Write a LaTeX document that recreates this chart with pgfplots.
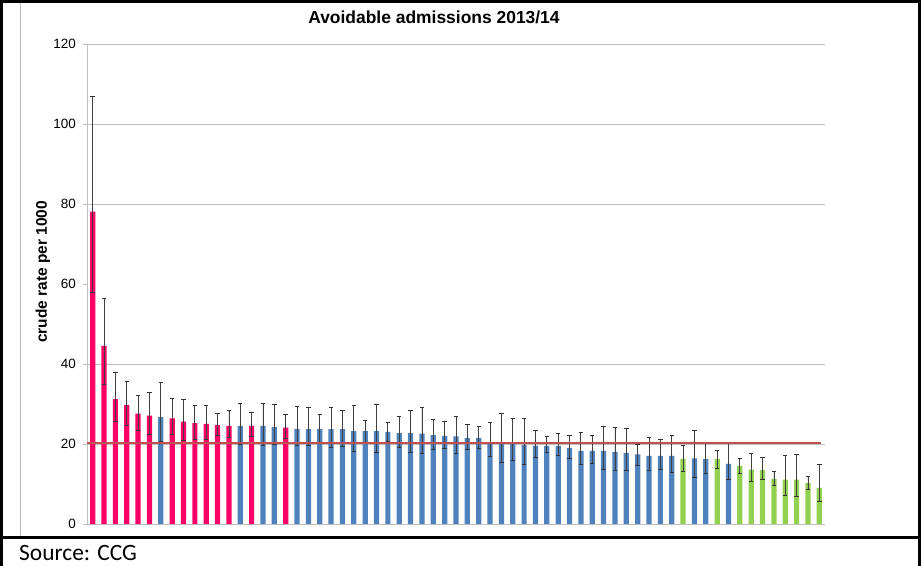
\documentclass[border=0pt]{standalone}
\usepackage{fontspec}
\setmainfont{Liberation Sans}
\newfontfamily\calibri{Carlito}
\usepackage{pgfplots}
\pgfplotsset{compat=1.18}
\usepackage{pgfplotstable}

\definecolor{pinkbar}{RGB}{255,0,102}
\definecolor{bluebar}{RGB}{79,129,189}
\definecolor{greenbar}{RGB}{146,208,80}
\definecolor{redline}{RGB}{192,80,77}
\definecolor{gridgray}{RGB}{192,192,192}

% i = position, v = crude rate, hi/lo = confidence limits
\pgfplotstableread{
i v hi lo
1 78.1 106.8 57.8
2 44.5 56.4 34.9
3 31.2 37.9 25.7
4 29.7 35.7 24.7
5 27.6 32.2 23.4
6 27.1 32.8 22.4
8 26.4 31.4 22.4
9 25.6 31.2 20.9
10 25.2 29.7 21.2
11 25.0 29.7 21.2
12 24.7 27.7 22.2
13 24.5 28.3 21.7
15 24.5 27.9 21.9
18 24.1 27.4 21.4
}\pinktab

\pgfplotstableread{
i v hi lo
7 26.7 35.3 20.7
14 24.5 30.2 19.8
16 24.5 30.2 19.7
17 24.2 29.9 19.9
19 23.8 29.4 19.7
20 23.7 29.2 19.7
21 23.7 27.5 20.2
22 23.7 29.2 19.1
23 23.7 28.4 19.4
24 23.2 29.6 18.2
25 23.2 25.9 20.5
26 23.2 29.9 17.8
27 23.0 25.5 20.7
28 22.7 27.0 19.1
29 22.7 28.4 17.9
30 22.6 29.2 17.7
31 22.2 26.1 18.7
32 22.0 25.7 18.9
33 21.9 26.9 17.7
34 21.5 24.8 18.7
35 21.5 24.3 18.9
36 20.1 25.4 16.9
37 20.0 27.7 15.4
38 20.0 26.4 16.0
39 19.8 26.4 14.9
40 19.6 23.5 16.7
41 19.5 21.9 17.8
42 19.5 22.6 17.1
43 19.0 22.1 16.3
44 18.3 23.0 14.9
45 18.3 22.2 15.2
46 18.3 24.4 13.7
47 18.0 24.2 13.4
48 17.8 23.9 13.3
49 17.4 20.0 14.7
50 17.0 21.7 13.3
51 17.0 21.2 13.7
52 17.0 22.2 12.9
54 16.4 23.4 11.7
55 16.2 20.2 12.7
57 15.0 20.2 11.2
}\bluetab

\pgfplotstableread{
i v hi lo
53 16.3 19.7 13.2
56 16.2 18.4 13.9
58 14.5 16.3 12.7
59 13.6 17.7 10.7
60 13.5 16.6 11.2
61 11.3 13.2 9.6
62 11.1 17.2 7.2
63 11.1 17.4 6.9
64 10.2 11.9 8.7
65 9.0 14.9 5.6
}\greentab

\pgfplotstableread{
i v
0.5 20.2
65.15 20.2
}\avgtab

\pgfplotsset{
  barstyle/.style={
    ybar, bar width=0.46, bar shift=0pt, draw=none, fill=#1,
    error bars/.cd, y dir=both, y explicit,
    error bar style={black!75, line width=0.8bp},
    error mark options={rotate=90, mark size=2.2bp, black!80, line width=0.9bp}
  }
}

\begin{document}
\begin{tikzpicture}
\path[use as bounding box] (0bp,0bp) rectangle (921bp,566bp);
% outer frame
\draw[line width=3bp] (1.5bp,0bp) -- (1.5bp,564.5bp) -- (919.5bp,564.5bp) -- (919.5bp,0bp);
\draw[line width=3bp] (0bp,28bp) -- (921bp,28bp);
\draw[gray!55, line width=0.8bp] (20bp,29.5bp) -- (20bp,563bp);
\node[anchor=west, inner sep=0pt, font=\calibri\fontsize{23.5}{27}\selectfont] at (19bp,13bp) {Source: CCG};
% titles
\node[font=\bfseries\fontsize{17.5}{21}\selectfont] at (434bp,549bp) {Avoidable admissions 2013/14};
\node[rotate=90, font=\bfseries\fontsize{15.5}{18}\selectfont] at (43bp,294bp) {crude rate per 1000};
\begin{axis}[
  at={(87bp,42bp)}, anchor=south west, scale only axis,
  width=738bp, height=480bp,
  xmin=0.5, xmax=65.5, ymin=0, ymax=120,
  xtick=\empty,
  ytick={0,20,...,120},
  axis x line*=bottom, axis y line*=left,
  axis line style={gridgray, line width=0.9bp},
  tick align=outside, major tick length=4bp,
  ytick style={gridgray, line width=0.8bp},
  extra y ticks={20,40,80,100,120},
  extra y tick labels={},
  extra y tick style={grid=major, major grid style={gridgray, line width=0.8bp}},
  /pgf/number format/assume math mode=true,
  yticklabel style={font=\fontsize{13.5}{16}\selectfont, inner sep=0pt, xshift=-7bp},
  clip=false,
]
\addplot[barstyle=pinkbar] table[x=i, y=v, y error plus expr=\thisrow{hi}-\thisrow{v}, y error minus expr=\thisrow{v}-\thisrow{lo}] {\pinktab};
\addplot[barstyle=bluebar] table[x=i, y=v, y error plus expr=\thisrow{hi}-\thisrow{v}, y error minus expr=\thisrow{v}-\thisrow{lo}] {\bluetab};
\addplot[barstyle=greenbar] table[x=i, y=v, y error plus expr=\thisrow{hi}-\thisrow{v}, y error minus expr=\thisrow{v}-\thisrow{lo}] {\greentab};
\addplot[redline, line width=2.6bp, mark=none] table[x=i, y=v] {\avgtab};
\end{axis}
\end{tikzpicture}
\end{document}
